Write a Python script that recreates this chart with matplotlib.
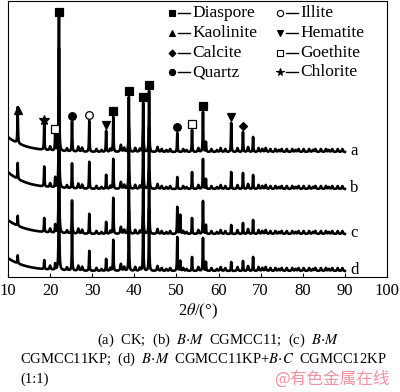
import numpy as np
import matplotlib
matplotlib.use("Agg")
import matplotlib.pyplot as plt

plt.rcParams['font.family'] = ['Liberation Serif', 'DejaVu Serif']
plt.rcParams['mathtext.fontset'] = 'stix'

# XRD patterns: main reflections (2theta, deg) and heights for each sample
peak_pos = [12.3, 18.6, 21.2, 22.1, 25.2, 29.3, 33.3, 35.0, 38.7, 42.1,
            43.5, 50.2, 50.9, 53.7, 56.3, 57.0, 63.0, 65.8, 68.2]
heights = {
    "a": [36, 26, 17, 134, 30, 31, 21, 35, 55, 49, 61, 19, 0, 22, 40, 10, 29, 20, 15],
    "b": [16, 20, 10, 140, 25, 27, 14, 30, 60, 55, 62, 12, 0, 17, 30, 10, 17, 16, 14],
    "c": [10, 14, 8, 140, 33, 20, 12, 36, 60, 55, 62, 27, 19, 16, 33, 9, 9, 11, 14],
    "d": [8, 9, 6, 140, 38, 20, 12, 31, 60, 55, 62, 34, 10, 14, 33, 9, 9, 10, 14],
}
# small reflections / background bumps
minor_pos = [20.0, 24.0, 26.7, 27.6, 31.0, 32.2, 34.3, 36.8, 37.6, 40.2, 41.3,
             45.5, 46.5, 47.6, 48.5, 51.6, 52.4, 55.2, 58.3, 59.6, 60.5, 61.6,
             64.5, 67.0, 69.5, 70.4, 71.2, 72.3, 73.5, 74.3, 75.0, 76.2, 77.5,
             78.3, 79.0, 80.2, 81.5, 82.4, 83.0, 84.3, 85.5, 86.2, 87.0, 88.3, 89.4]
minor_h = [4, 3, 5, 4, 3, 2, 3, 7, 4, 4, 3, 5, 3, 2, 3, 3, 2, 4, 3, 2, 4, 3,
           4, 5, 4, 3, 4, 3, 3, 2, 3, 3, 3, 2, 3, 3, 3, 2, 3, 3, 3, 2, 3, 3, 3]
bg_start = {"a": 15, "b": 17, "c": 14, "d": 13}
offsets = {"a": 125, "b": 88, "c": 43, "d": 6}

# phase markers on pattern a
mark_pos = [12.3, 18.6, 21.2, 22.1, 25.2, 29.3, 33.3, 35.0, 38.7, 42.1,
            43.5, 50.2, 53.7, 56.3, 63.0, 65.8]
mark_phase = ["Kaolinite", "Chlorite", "Goethite", "Diaspore", "Quartz", "Illite",
              "Hematite", "Diaspore", "Diaspore", "Diaspore", "Diaspore", "Quartz",
              "Goethite", "Diaspore", "Hematite", "Calcite"]
phase_marker = {
    "Diaspore": ("s", "k"), "Kaolinite": ("^", "k"), "Calcite": ("D", "k"),
    "Quartz": ("o", "k"), "Illite": ("o", "w"), "Hematite": ("v", "k"),
    "Goethite": ("s", "w"), "Chlorite": ("*", "k"),
}
legend_col1 = ["Diaspore", "Kaolinite", "Calcite", "Quartz"]
legend_col2 = ["Illite", "Hematite", "Goethite", "Chlorite"]

x = np.arange(10, 90.001, 0.01)


def profile(key):
    y = np.full_like(x, float(offsets[key]))
    y += bg_start[key] * np.exp(-(x - 10) / 4.5)
    for p, h in zip(peak_pos, heights[key]):
        y += h / (1 + ((x - p) / 0.07) ** 2)
    for p, h in zip(minor_pos, minor_h):
        y += h / (1 + ((x - p) / 0.15) ** 2)
    return y


fig = plt.figure(figsize=(4.0, 3.92), dpi=100)
ax = fig.add_axes([0.02, 0.293, 0.9475, 0.704])

for key in ["a", "b", "c", "d"]:
    ax.plot(x, profile(key), color="black", lw=1.9)
    ax.text(91.3, offsets[key] + 1, key, fontsize=12, va="center", ha="left")

for p, ph in zip(mark_pos, mark_phase):
    i = peak_pos.index(p)
    top = offsets["a"] + heights["a"][i] + 6
    m, fc = phase_marker[ph]
    ms = 4 if m == "D" else (7 if m == "*" else 5.5)
    ax.plot(p, top, marker=m, ms=ms, mfc=fc, mec="black", mew=0.9, ls="none")

for col, xm in [(legend_col1, 0.433), (legend_col2, 0.718)]:
    for j, ph in enumerate(col):
        yy = 0.957 - j * 0.0715
        m, fc = phase_marker[ph]
        ms = 3.5 if m == "D" else (5.5 if m == "*" else 4.5)
        ax.plot(xm, yy, marker=m, ms=ms, mfc=fc, mec="black", mew=0.8,
                transform=ax.transAxes, ls="none")
        ax.plot([xm + 0.016, xm + 0.048], [yy, yy], color="black", lw=1.0,
                transform=ax.transAxes)
        ax.text(xm + 0.053, yy, ph, fontsize=12.5, va="center",
                ha="left", transform=ax.transAxes)

ax.set_xlim(10, 100)
ax.set_ylim(0, 276)
ax.set_xticks(range(10, 101, 10))
ax.set_yticks([])
ax.tick_params(axis="x", direction="in", length=3, labelsize=12, pad=4)
ax.set_xlabel(r"2$\theta$/(°)", fontsize=12, labelpad=2)

fig.text(97 / 400, 1 - 340 / 392, r"(a)  CK;  (b)  $B{\cdot}M$  CGMCC11;  (c)  $B{\cdot}M$",
         fontsize=10.5, va="center", ha="left")
fig.text(20 / 400, 1 - 359 / 392,
         r"CGMCC11KP;  (d)  $B{\cdot}M$  CGMCC11KP+$B{\cdot}C$  CGMCC12KP",
         fontsize=10.5, va="center", ha="left")
fig.text(20 / 400, 1 - 379 / 392, "(1:1)", fontsize=10.5, va="center", ha="left")
fig.text(390 / 400, 1 - 379 / 392, "@有色金属在线", fontsize=12, va="center", ha="right",
         color="#ee8090", alpha=0.85, family=["Noto Sans CJK SC", "DejaVu Sans"])

fig.savefig("out.png", dpi=100)
